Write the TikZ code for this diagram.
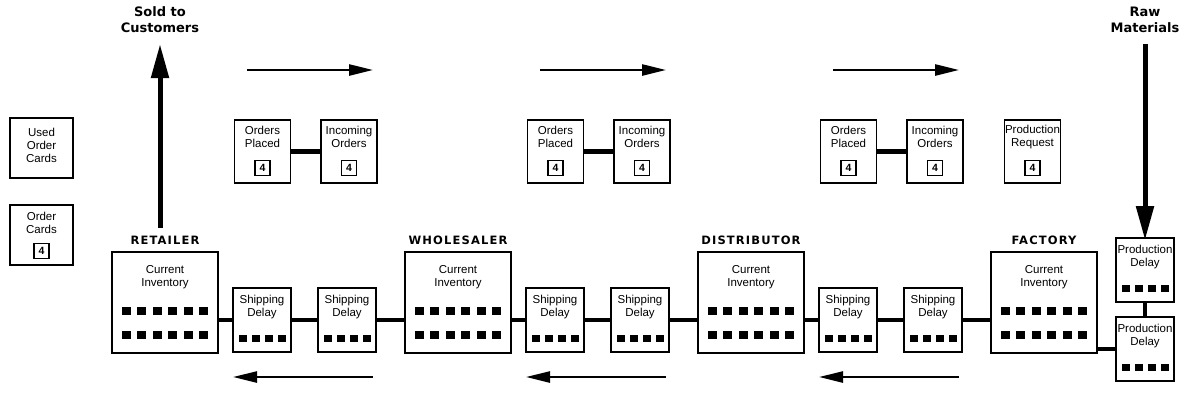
\documentclass[tikz,border=0pt]{standalone}
\usepackage{fontspec}
\setmainfont{Liberation Sans}
\newfontfamily\headfont[LetterSpace=10]{DejaVu Sans}
\newfontfamily\titlefont{DejaVu Sans}
\usetikzlibrary{arrows.meta}
\tikzset{
  box/.style={draw, line width=1.6pt, inner sep=0pt},
  lbl/.style={font=\fontsize{11.5}{13}\selectfont, align=center, inner sep=0pt},
  head/.style={font=\headfont\bfseries\fontsize{11.5}{13}\selectfont, inner sep=0pt},
  title/.style={font=\titlefont\bfseries\fontsize{13}{16}\selectfont, align=center, inner sep=0pt},
  cnt/.style={draw, line width=1.6pt, minimum size=15pt, inner sep=0pt, font=\bfseries\fontsize{10.5}{11}\selectfont},
  chain/.style={line width=4.5pt},
  flow/.style={line width=2.5pt, -{Triangle[length=24pt,width=11pt]}},
  bigflow/.style={line width=5pt, -{Triangle[length=34pt,width=17pt]}},
  tok/.style={fill=black}
}
% inventory box: name, centre x, label
\newcommand\invbox[3]{%
  \node[head] (#1-h) at (#2,240) {#3};
  \node[box, minimum width=106pt, minimum height=101pt] (#1) at (#2,302.5) {};
  \node[lbl] (#1-t) at (#2,277) {Current\\Inventory};
  \foreach \k in {0,...,5} {
    \fill[tok] ({#2-43+\k*15.4},307) rectangle ++(9,8);
    \fill[tok] ({#2-43+\k*15.4},331) rectangle ++(9,8);
  }%
}
% delay box: name, centre x, centre y, first line
\newcommand\delaybox[4]{%
  \node[box, minimum width=58pt, minimum height=64pt] (#1) at (#2,#3) {};
  \node[lbl] (#1-t) at (#2,#3-13) {#4\\Delay};
  \foreach \k in {0,...,3} {
    \fill[tok] ({#2-23+\k*13},#3+14.5) rectangle ++(8,7);
  }%
}
% order box: name, centre x, text
\newcommand\ordbox[3]{%
  \node[box, minimum width=56pt, minimum height=63pt] (#1) at (#2,151.5) {};
  \node[lbl] (#1-t) at (#2,137) {#3};
  \node[cnt] (#1-c) at (#2,168) {4};
}
\begin{document}
\begin{tikzpicture}[x=1pt,y=-1pt]
\useasboundingbox (0,0) rectangle (1185,410);

% left card boxes
\node[box, minimum width=63pt, minimum height=60pt] (used) at (41.5,148) {};
\node[lbl] (used-t) at (41.5,145) {Used\\Order\\Cards};
\node[box, minimum width=63pt, minimum height=60pt] (cards) at (41.5,235) {};
\node[lbl] (cards-t) at (41.5,223) {Order\\Cards};
\node[cnt] (cards-c) at (41.5,251) {4};

% titles
\node[title] (sold) at (160,20) {Sold to\\Customers};
\node[title] (raw) at (1145,20) {Raw\\Materials};

% inventories
\invbox{ret}{165}{RETAILER}
\invbox{who}{458}{WHOLESALER}
\invbox{dis}{751}{DISTRIBUTOR}
\invbox{fac}{1044}{FACTORY}

% shipping delays
\delaybox{s1}{262}{320}{Shipping}
\delaybox{s2}{347}{320}{Shipping}
\delaybox{s3}{555}{320}{Shipping}
\delaybox{s4}{640}{320}{Shipping}
\delaybox{s5}{848}{320}{Shipping}
\delaybox{s6}{933}{320}{Shipping}

% production delays
\delaybox{p1}{1145}{270}{Production}
\delaybox{p2}{1145}{349}{Production}

% order boxes
\ordbox{op1}{262.5}{Orders\\Placed}
\ordbox{io1}{349}{Incoming\\Orders}
\ordbox{op2}{555.5}{Orders\\Placed}
\ordbox{io2}{642}{Incoming\\Orders}
\ordbox{op3}{848.5}{Orders\\Placed}
\ordbox{io3}{935}{Incoming\\Orders}
\ordbox{pr}{1032.5}{Production\\Request}

% order connectors
\draw[chain] (op1.east) -- (io1.west);
\draw[chain] (op2.east) -- (io2.west);
\draw[chain] (op3.east) -- (io3.west);

% supply chain connectors
\draw[chain] (ret.east |- s1) -- (s1.west);
\draw[chain] (s1.east) -- (s2.west);
\draw[chain] (s2.east) -- (who.west |- s2);
\draw[chain] (who.east |- s3) -- (s3.west);
\draw[chain] (s3.east) -- (s4.west);
\draw[chain] (s4.east) -- (dis.west |- s4);
\draw[chain] (dis.east |- s5) -- (s5.west);
\draw[chain] (s5.east) -- (s6.west);
\draw[chain] (s6.east) -- (fac.west |- s6);
\draw[chain] (fac.east |- p2) -- (p2.west);
\draw[chain] (p1.south) -- (p2.north);

% flow arrows
\coordinate (ta1) at (247,70); \coordinate (tb1) at (373,70);
\coordinate (ta2) at (540,70); \coordinate (tb2) at (666,70);
\coordinate (ta3) at (833,70); \coordinate (tb3) at (959,70);
\draw[flow] (ta1) -- (tb1);
\draw[flow] (ta2) -- (tb2);
\draw[flow] (ta3) -- (tb3);
\coordinate (ba1) at (373,377); \coordinate (bb1) at (233,377);
\coordinate (ba2) at (666,377); \coordinate (bb2) at (526,377);
\coordinate (ba3) at (959,377); \coordinate (bb3) at (819,377);
\draw[flow] (ba1) -- (bb1);
\draw[flow] (ba2) -- (bb2);
\draw[flow] (ba3) -- (bb3);

% customer and raw material arrows
\coordinate (up0) at (160,228);
\coordinate (up1) at (160,44);
\coordinate (dn0) at (1145,44);
\draw[bigflow] (up0) -- (up1);
\draw[bigflow] (dn0) -- ([yshift=-3pt]p1.north);
\end{tikzpicture}
\end{document}
